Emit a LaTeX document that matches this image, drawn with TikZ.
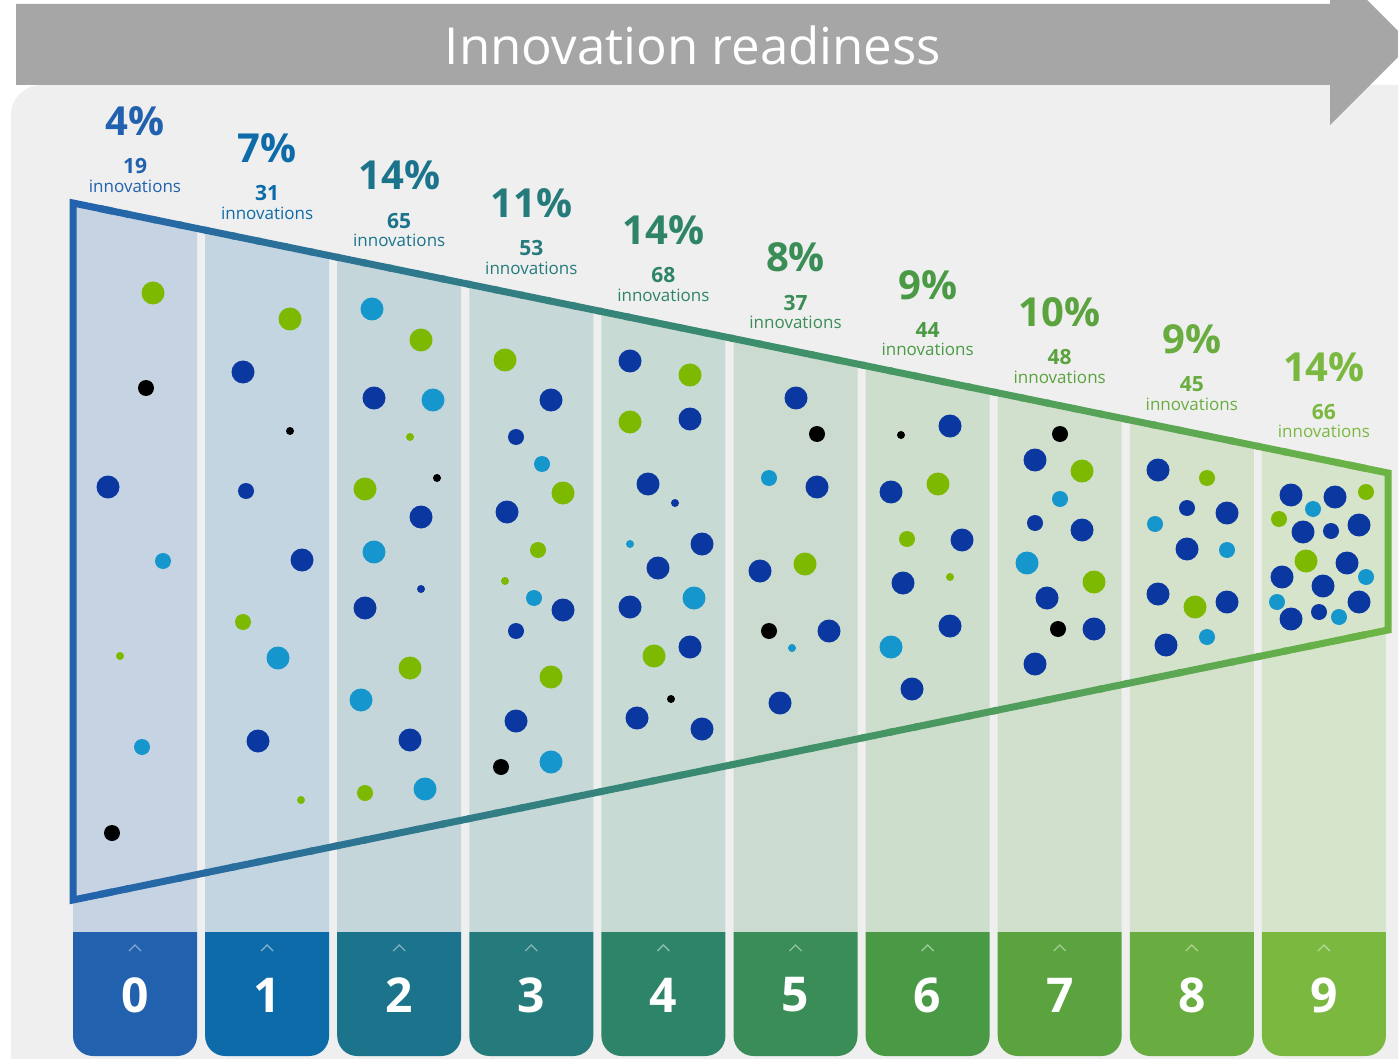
\documentclass[tikz,border=0pt]{standalone}
\usepackage{fontspec}
\setmainfont{Open Sans}
\definecolor{bg}{HTML}{EFEFEF}
\definecolor{arrowgray}{HTML}{A6A6A6}
\definecolor{c0}{HTML}{2161AD}
\definecolor{c1}{HTML}{0C6BA8}
\definecolor{c2}{HTML}{1C748C}
\definecolor{c3}{HTML}{257B7B}
\definecolor{c4}{HTML}{2E8468}
\definecolor{c5}{HTML}{3A8D56}
\definecolor{c6}{HTML}{4A9A45}
\definecolor{c7}{HTML}{5AA33F}
\definecolor{c8}{HTML}{69AD40}
\definecolor{c9}{HTML}{7AB840}
\definecolor{dB}{HTML}{0A37A0}
\definecolor{dC}{HTML}{1596CC}
\definecolor{dG}{HTML}{7CB900}
\definecolor{dK}{HTML}{000000}
\definecolor{fa}{HTML}{2363AD}
\definecolor{fm}{HTML}{3A8C6E}
\definecolor{fb}{HTML}{6CB545}
\tikzset{
  pcttext/.style={font=\bfseries\fontsize{40}{40}\selectfont, inner sep=0pt},
  numtext/.style={font=\bfseries\fontsize{21}{21}\selectfont, inner sep=0pt},
  innotext/.style={font=\fontsize{17}{17}\selectfont, inner sep=0pt},
  digittext/.style={font=\bfseries\fontsize{48}{48}\selectfont, text=white, inner sep=0pt},
  funnelline/.style={line width=7pt, line join=miter},
}
\begin{document}
\begin{tikzpicture}[x=1pt,y=-1pt]
\useasboundingbox (0,0) rectangle (1398,1059);
\clip (0,0) rectangle (1398,1059);
\fill[white] (0,0) rectangle (1398,1059);
% background panel
\fill[bg, rounded corners=30pt] (11,1100) -- (11,85) -- (1430,85) -- (1430,1100) -- cycle;
% title arrow
\fill[arrowgray] (16,4) -- (1330,4) -- (1330,-37) -- (1411,44) -- (1330,125) -- (1330,85) -- (16,85) -- cycle;
\node[font=\fontsize{51}{51}\selectfont, text=white, inner sep=0pt] (title) at (693,45) {Innovation readiness};
% columns and boxes
\foreach \i in {0,...,9}{
  \pgfmathsetmacro\cx{135+132.1*\i}
  \pgfmathsetmacro\xl{\cx-62}
  \pgfmathsetmacro\xr{\cx+62}
  \pgfmathsetmacro\ytl{203+0.2053*(\xl-73)}
  \pgfmathsetmacro\ytr{203+0.2053*(\xr-73)}
  \fill[c\i!20!bg] (\xl,\ytl) -- (\xr,\ytr) -- (\xr,932) -- (\xl,932) -- cycle;
  \fill[c\i] (\xl,932) [rounded corners=20pt] -- (\xl,1056) -- (\xr,1056) [sharp corners] -- (\xr,932) -- cycle;
  \draw[white, opacity=0.45, line width=1.3pt] (\cx-6,951) -- (\cx,945) -- (\cx+6,951);
  \node[digittext] (lvl\i) at (\cx,995) {\i};
}
% funnel outline with colour gradient
\draw[funnelline, fa] (73+1315*0.03,203+270*0.03) -- (73,203) -- (73,900) -- (73+1315*0.03,900-270*0.03);
\draw[funnelline, fb] (73+1315*0.97,203+270*0.97) -- (1388,473) -- (1388,630) -- (73+1315*0.97,900-270*0.97);
\foreach \k in {1,...,48}{
  \pgfmathsetmacro\ta{\k/50}
  \pgfmathsetmacro\tb{(\k+1.15)/50}
  \pgfmathsetmacro\tm{(\k+0.5)/50}
  \ifdim\tm pt<0.5pt
    \pgfmathsetmacro\pc{\tm*200}
    \colorlet{sc}{fm!\pc!fa}
  \else
    \pgfmathsetmacro\pc{(\tm-0.5)*200}
    \colorlet{sc}{fb!\pc!fm}
  \fi
  \draw[sc, line width=7pt] (73+1315*\ta,203+270*\ta) -- (73+1315*\tb,203+270*\tb);
  \draw[sc, line width=7pt] (73+1315*\ta,900-270*\ta) -- (73+1315*\tb,900-270*\tb);
}
% dots
\foreach \x/\y/\r/\c in {
  153/293/11.5/dG, 146/388/8/dK, 108/487/11.5/dB, 163/561/8/dC, 120/656/4/dG, 142/747/8/dC, 112/833/8/dK,
  290/319/11.5/dG, 243/372/11.5/dB, 290/431/4/dK, 246/491/8/dB, 302/560/11.5/dB, 243/622/8/dG, 278/658/11.5/dC, 258/741/11.5/dB, 301/800/4/dG,
  372/309/11.5/dC, 421/340/11.5/dG, 374/398/11.5/dB, 433/400/11.5/dC, 410/437/4/dG, 437/478/4/dK, 365/489/11.5/dG, 421/517/11.5/dB, 374/552/11.5/dC, 421/589/4/dB, 365/608/11.5/dB, 410/668/11.5/dG, 361/700/11.5/dC, 410/740/11.5/dB, 425/789/11.5/dC, 365/793/8/dG,
  505/360/11.5/dG, 551/400/11.5/dB, 516/437/8/dB, 542/464/8/dC, 563/493/11.5/dG, 507/512/11.5/dB, 538/550/8/dG, 505/581/4/dG, 534/598/8/dC, 563/610/11.5/dB, 516/631/8/dB, 551/677/11.5/dG, 516/721/11.5/dB, 501/767/8/dK, 551/762/11.5/dC,
  630/361/11.5/dB, 690/375/11.5/dG, 690/419/11.5/dB, 630/422/11.5/dG, 648/484/11.5/dB, 675/503/4/dB, 630/544/4/dC, 702/544/11.5/dB, 658/568/11.5/dB, 630/607/11.5/dB, 694/598/11.5/dC, 690/647/11.5/dB, 654/656/11.5/dG, 671/699/4/dK, 637/718/11.5/dB, 702/729/11.5/dB,
  796/398/11.5/dB, 817/434/8/dK, 769/478/8/dC, 817/487/11.5/dB, 760/571/11.5/dB, 805/564/11.5/dG, 769/631/8/dK, 829/631/11.5/dB, 792/648/4/dC, 780/703/11.5/dB,
  901/435/4/dK, 950/426/11.5/dB, 938/484/11.5/dG, 891/492/11.5/dB, 962/540/11.5/dB, 907/539/8/dG, 903/583/11.5/dB, 950/577/4/dG, 950/626/11.5/dB, 891/647/11.5/dC, 912/689/11.5/dB,
  1060/434/8/dK, 1035/460/11.5/dB, 1082/471/11.5/dG, 1060/499/8/dC, 1035/523/8/dB, 1082/530/11.5/dB, 1027/563/11.5/dC, 1094/582/11.5/dG, 1047/598/11.5/dB, 1058/629/8/dK, 1094/629/11.5/dB, 1035/664/11.5/dB,
  1158/470/11.5/dB, 1207/478/8/dG, 1187/508/8/dB, 1155/524/8/dC, 1227/513/11.5/dB, 1187/549/11.5/dB, 1227/550/8/dC, 1158/594/11.5/dB, 1195/607/11.5/dG, 1227/602/11.5/dB, 1207/637/8/dC, 1166/645/11.5/dB,
  1291/495/11.5/dB, 1335/497/11.5/dB, 1366/492/8/dG, 1313/509/8/dC, 1279/519/8/dG, 1303/532/11.5/dB, 1331/531/8/dB, 1359/525/11.5/dB, 1306/561/11.5/dG, 1347/563/11.5/dB, 1366/577/8/dC, 1282/577/11.5/dB, 1323/586/11.5/dB, 1277/602/8/dC, 1359/602/11.5/dB, 1291/619/11.5/dB, 1319/612/8/dB, 1339/617/8/dC}{
  \fill[\c] (\x,\y) circle[radius=\r];
}
% labels
\foreach \i/\p/\n in {0/4/19, 1/7/31, 2/14/65, 3/11/53, 4/14/68, 5/8/37, 6/9/44, 7/10/48, 8/9/45, 9/14/66}{
  \pgfmathsetmacro\cx{135+132.1*\i}
  \pgfmathsetmacro\dy{27.3*\i}
  \node[pcttext, text=c\i] (pct\i) at (\cx,121+\dy) {\p\%};
  \node[numtext, text=c\i] (num\i) at (\cx,166+\dy) {\n};
  \node[innotext, text=c\i] (inno\i) at (\cx,186+\dy) {innovations};
}
\end{tikzpicture}
\end{document}
